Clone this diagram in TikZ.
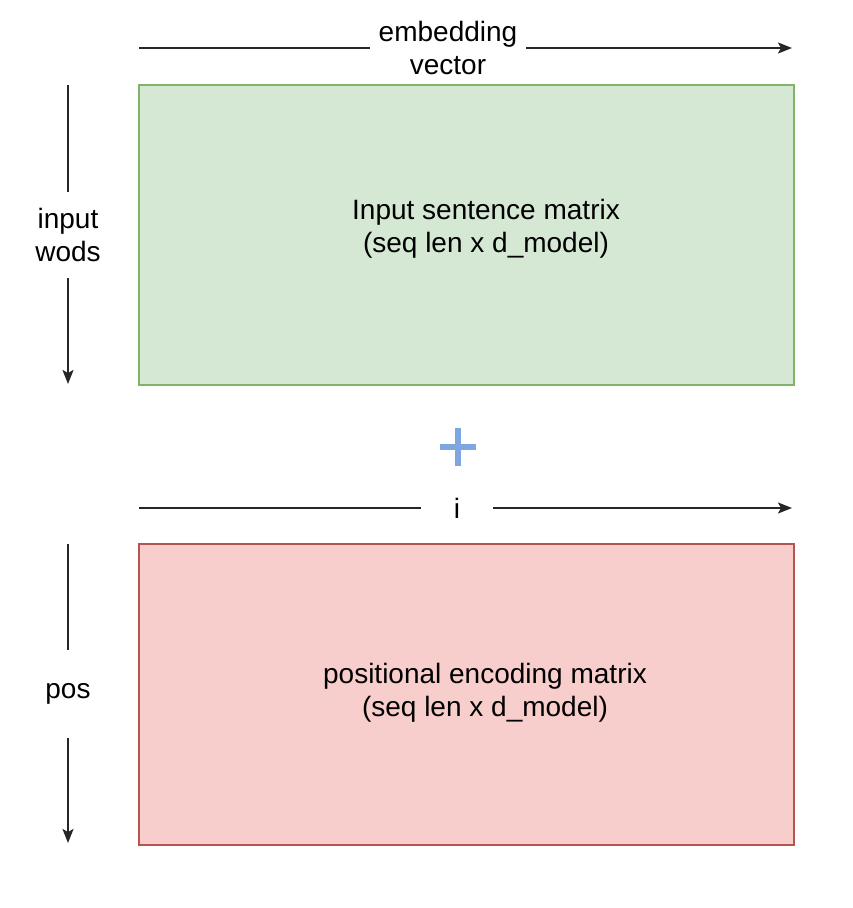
\documentclass[tikz,border=0pt]{standalone}
\usepackage{fontspec}
\setmainfont{Liberation Sans}
\usetikzlibrary{arrows.meta}

\definecolor{embfill}{HTML}{D5E8D4}
\definecolor{embline}{HTML}{82B366}
\definecolor{posfill}{HTML}{F8CECC}
\definecolor{posline}{HTML}{B85450}
\definecolor{plusblue}{HTML}{7EA6E0}

\tikzset{
    axisline/.style={draw=black!85, line width=1pt},
    axisarrow/.style={axisline, -{Stealth[length=7pt,width=5.5pt,inset=1.5pt]}},
    axislabel/.style={align=center, inner sep=0pt},
    matlabel/.style={align=center, inner sep=0pt}
}

\begin{document}
\begin{tikzpicture}[x=0.5pt, y=-0.5pt,
    every node/.style={font=\fontsize{14}{16.5}\selectfont}]
    \useasboundingbox (0,0) rectangle (852,908);
    % matrices
    \filldraw[fill=embfill, draw=embline, line width=1pt] (139,85) rectangle (794,385);
    \filldraw[fill=posfill, draw=posline, line width=1pt] (139,544) rectangle (794,845);
    \node[matlabel] (inmat) at (486,229) {Input sentence matrix\\(seq len x d\_model)};
    \node[matlabel] (posmat) at (485,693) {positional encoding matrix\\(seq len x d\_model)};
    % plus sign
    \draw[plusblue, line width=3pt] (440,447) -- (476,447) (458,428) -- (458,466);
    % horizontal axes
    \coordinate (emb0) at (139,48);
    \coordinate (emb1) at (792,48);
    \node[axislabel, minimum width=78pt] (emblab) at (448,48) {embedding\\vector};
    \draw[axisline] (emb0) -- (emblab);
    \draw[axisarrow] (emblab) -- (emb1);
    \coordinate (i0) at (139,508);
    \coordinate (i1) at (792,508);
    \node[axislabel, minimum width=36pt] (ilab) at (457,508) {i};
    \draw[axisline] (i0) -- (ilab);
    \draw[axisarrow] (ilab) -- (i1);
    % vertical axes
    \coordinate (w0) at (68,85);
    \coordinate (w1) at (68,384);
    \node[axislabel, minimum height=43pt] (wlab) at (68,235) {input\\wods};
    \draw[axisline] (w0) -- (wlab);
    \draw[axisarrow] (wlab) -- (w1);
    \coordinate (p0) at (68,544);
    \coordinate (p1) at (68,843);
    \node[axislabel, minimum height=44pt] (plab) at (68,694) {pos};
    \draw[axisline] (p0) -- (plab);
    \draw[axisarrow] (plab) -- (p1);
\end{tikzpicture}
\end{document}
